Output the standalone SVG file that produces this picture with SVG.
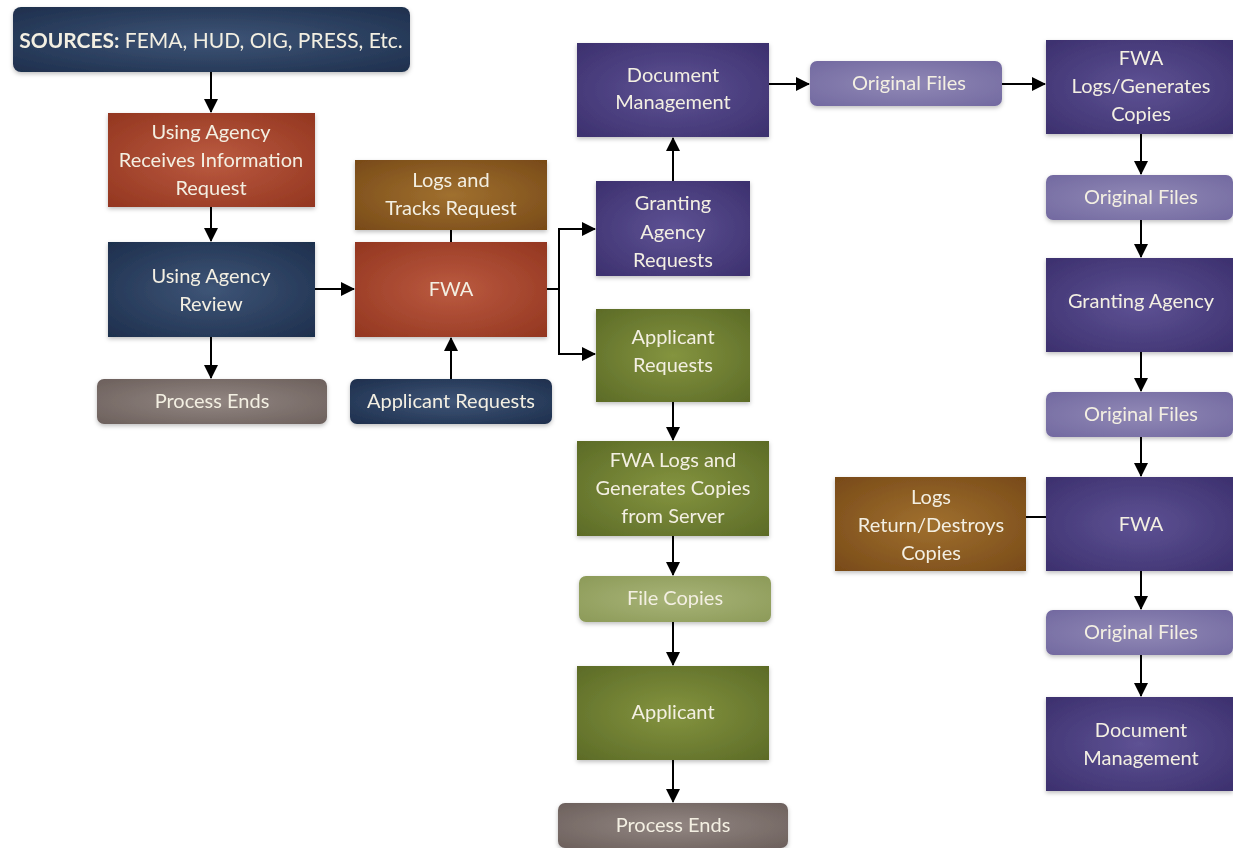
<svg xmlns="http://www.w3.org/2000/svg" width="1233" height="848" viewBox="0 0 1233 848">
<defs>
<radialGradient id="gNavy" cx="50%" cy="50%" r="70%"><stop offset="0" stop-color="#3e5577"/><stop offset="1" stop-color="#1e2f4d"/></radialGradient>
<radialGradient id="gRed" cx="50%" cy="50%" r="70%"><stop offset="0" stop-color="#bb5a40"/><stop offset="1" stop-color="#933620"/></radialGradient>
<radialGradient id="gBrown" cx="50%" cy="50%" r="70%"><stop offset="0" stop-color="#a0702f"/><stop offset="1" stop-color="#784a18"/></radialGradient>
<radialGradient id="gPurple" cx="50%" cy="50%" r="70%"><stop offset="0" stop-color="#5e5294"/><stop offset="1" stop-color="#3c306e"/></radialGradient>
<radialGradient id="gLPurple" cx="50%" cy="50%" r="70%"><stop offset="0" stop-color="#9189b6"/><stop offset="1" stop-color="#7269a0"/></radialGradient>
<radialGradient id="gGreen" cx="50%" cy="50%" r="70%"><stop offset="0" stop-color="#84943f"/><stop offset="1" stop-color="#5c6b27"/></radialGradient>
<radialGradient id="gLGreen" cx="50%" cy="50%" r="70%"><stop offset="0" stop-color="#a8b478"/><stop offset="1" stop-color="#8c9a58"/></radialGradient>
<radialGradient id="gGray" cx="50%" cy="50%" r="70%"><stop offset="0" stop-color="#928682"/><stop offset="1" stop-color="#6c605c"/></radialGradient>
<marker id="arr" markerWidth="16" markerHeight="16" refX="13" refY="8" orient="auto" markerUnits="userSpaceOnUse"><path d="M0,1 L14,8 L0,15 Z" fill="#000"/></marker>
<filter id="sh" x="-10%" y="-10%" width="120%" height="130%"><feDropShadow dx="0" dy="2" stdDeviation="2" flood-color="#000" flood-opacity="0.25"/></filter>
</defs>
<style>
text{font-family:Lato,"Open Sans","Liberation Sans",sans-serif;font-size:20px;fill:#f3efe2;text-anchor:middle}
.b{filter:url(#sh)}
.c line,.c path{stroke:#000;stroke-width:2;fill:none}
.a{marker-end:url(#arr)}
</style>
<rect width="1233" height="848" fill="#ffffff"/>
<g class="c" id="connectors">
<line class="a" x1="211" y1="72" x2="211" y2="112"/>
<line class="a" x1="211" y1="207" x2="211" y2="241"/>
<line class="a" x1="211" y1="337" x2="211" y2="378"/>
<line class="a" x1="315" y1="289" x2="354" y2="289"/>
<line x1="451" y1="230" x2="451" y2="242"/>
<line class="a" x1="451" y1="379" x2="451" y2="338"/>
<path d="M547,289 H559 M559,229 V354"/>
<line class="a" x1="558" y1="229" x2="595" y2="229"/>
<line class="a" x1="558" y1="354" x2="595" y2="354"/>
<line class="a" x1="673" y1="181" x2="673" y2="138"/>
<line class="a" x1="769" y1="84" x2="809" y2="84"/>
<line class="a" x1="1002" y1="84" x2="1045" y2="84"/>
<line class="a" x1="1141" y1="134" x2="1141" y2="174"/>
<line class="a" x1="1141" y1="220" x2="1141" y2="257"/>
<line class="a" x1="1141" y1="352" x2="1141" y2="391"/>
<line class="a" x1="1141" y1="437" x2="1141" y2="476"/>
<line class="a" x1="1141" y1="571" x2="1141" y2="609"/>
<line class="a" x1="1141" y1="655" x2="1141" y2="696"/>
<line x1="1026" y1="517" x2="1046" y2="517"/>
<line class="a" x1="673" y1="402" x2="673" y2="440"/>
<line class="a" x1="673" y1="536" x2="673" y2="575"/>
<line class="a" x1="673" y1="622" x2="673" y2="665"/>
<line class="a" x1="673" y1="760" x2="673" y2="802"/>
</g>
<g id="sources" class="b"><rect x="13" y="7" width="397" height="65" rx="8" fill="url(#gNavy)"/><text x="211" y="48" style="font-size:21px"><tspan font-weight="bold">SOURCES:</tspan> FEMA, HUD, OIG, PRESS, Etc.</text></g>
<g id="receives" class="b"><rect x="108" y="113" width="207" height="94" fill="url(#gRed)"/><text x="211" y="139">Using Agency</text><text x="211" y="167">Receives Information</text><text x="211" y="195">Request</text></g>
<g id="review" class="b"><rect x="108" y="242" width="207" height="95" fill="url(#gNavy)"/><text x="211" y="283">Using Agency</text><text x="211" y="311">Review</text></g>
<g id="ends1" class="b"><rect x="97" y="379" width="230" height="45" rx="7" fill="url(#gGray)"/><text x="212" y="408">Process Ends</text></g>
<g id="logs" class="b"><rect x="355" y="160" width="192" height="70" fill="url(#gBrown)"/><text x="451" y="187">Logs and</text><text x="451" y="215">Tracks Request</text></g>
<g id="fwa1" class="b"><rect x="355" y="242" width="192" height="95" fill="url(#gRed)"/><text x="451" y="296">FWA</text></g>
<g id="appreq1" class="b"><rect x="350" y="379" width="202" height="45" rx="7" fill="url(#gNavy)"/><text x="451" y="408">Applicant Requests</text></g>
<g id="granting-req" class="b"><rect x="596" y="181" width="154" height="95" fill="url(#gPurple)"/><text x="673" y="210">Granting</text><text x="673" y="239">Agency</text><text x="673" y="267">Requests</text></g>
<g id="docmgmt1" class="b"><rect x="577" y="43" width="192" height="94" fill="url(#gPurple)"/><text x="673" y="82">Document</text><text x="673" y="109">Management</text></g>
<g id="orig1" class="b"><rect x="810" y="61" width="192" height="45" rx="7" fill="url(#gLPurple)"/><text x="909" y="90">Original Files</text></g>
<g id="fwalogs" class="b"><rect x="1046" y="40" width="187" height="94" fill="url(#gPurple)"/><text x="1141" y="65">FWA</text><text x="1141" y="93">Logs/Generates</text><text x="1141" y="121">Copies</text></g>
<g id="orig2" class="b"><rect x="1046" y="175" width="187" height="45" rx="7" fill="url(#gLPurple)"/><text x="1141" y="204">Original Files</text></g>
<g id="granting" class="b"><rect x="1046" y="258" width="187" height="94" fill="url(#gPurple)"/><text x="1141" y="308">Granting Agency</text></g>
<g id="orig3" class="b"><rect x="1046" y="392" width="187" height="45" rx="7" fill="url(#gLPurple)"/><text x="1141" y="421">Original Files</text></g>
<g id="fwa2" class="b"><rect x="1046" y="477" width="187" height="94" fill="url(#gPurple)"/><text x="1141" y="531">FWA</text></g>
<g id="logsreturn" class="b"><rect x="835" y="477" width="191" height="94" fill="url(#gBrown)"/><text x="931" y="504">Logs</text><text x="931" y="532">Return/Destroys</text><text x="931" y="560">Copies</text></g>
<g id="orig4" class="b"><rect x="1046" y="610" width="187" height="45" rx="7" fill="url(#gLPurple)"/><text x="1141" y="639">Original Files</text></g>
<g id="docmgmt2" class="b"><rect x="1046" y="697" width="187" height="94" fill="url(#gPurple)"/><text x="1141" y="737">Document</text><text x="1141" y="765">Management</text></g>
<g id="appreq2" class="b"><rect x="596" y="309" width="154" height="93" fill="url(#gGreen)"/><text x="673" y="344">Applicant</text><text x="673" y="372">Requests</text></g>
<g id="fwalogs2" class="b"><rect x="577" y="441" width="192" height="95" fill="url(#gGreen)"/><text x="673" y="467">FWA Logs and</text><text x="673" y="495">Generates Copies</text><text x="673" y="523">from Server</text></g>
<g id="filecopies" class="b"><rect x="579" y="576" width="192" height="46" rx="7" fill="url(#gLGreen)"/><text x="675" y="605">File Copies</text></g>
<g id="applicant" class="b"><rect x="577" y="666" width="192" height="94" fill="url(#gGreen)"/><text x="673" y="719">Applicant</text></g>
<g id="ends2" class="b"><rect x="558" y="803" width="230" height="45" rx="7" fill="url(#gGray)"/><text x="673" y="832">Process Ends</text></g>
</svg>
